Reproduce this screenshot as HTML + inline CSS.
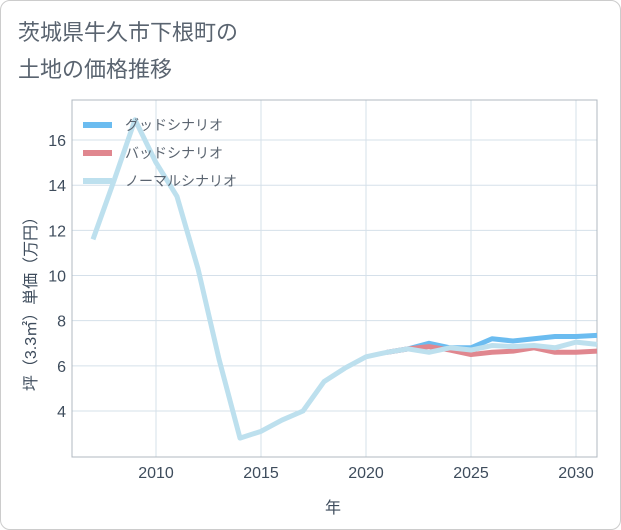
<!DOCTYPE html>
<html><head><meta charset="utf-8"><style>
body{margin:0;background:#fff;font-family:"Liberation Sans","Noto Sans CJK JP",sans-serif;}
#card{position:absolute;left:0;top:0;width:619px;height:528px;border:1px solid #ccc;border-radius:10px;background:#fff;}
</style></head><body>
<div id="card"></div>
<svg id="c" width="621" height="530" style="position:absolute;left:0;top:0"></svg>
<script>
const years=[2007,2008,2009,2010,2011,2012,2013,2014,2015,2016,2017,2018,2019,2020,2021,2022,2023,2024,2025,2026,2027,2028,2029,2030,2031];
const normal=[11.6,14.2,16.9,15,13.5,10.3,6.3,2.8,3.1,3.6,4.0,5.3,5.9,6.4,6.6,6.75,6.6,6.8,6.7,6.9,6.85,6.9,6.8,7.05,6.95];
const goodYears=[2021,2022,2023,2024,2025,2026,2027,2028,2029,2030,2031];
const good=[6.6,6.75,7.0,6.8,6.8,7.2,7.1,7.2,7.3,7.3,7.35];
const bad=[6.6,6.75,6.85,6.7,6.5,6.6,6.65,6.8,6.6,6.6,6.65];
const xTicks=[2010,2015,2020,2025,2030];
const yTicks=[4,6,8,10,12,14,16];
const NS='http://www.w3.org/2000/svg';
const svg=document.getElementById('c');
const X=y=>156+(y-2010)*21;
const Y=v=>411-(v-4)*22.58;
function el(t,a,txt){const e=document.createElementNS(NS,t);for(const k in a)e.setAttribute(k,a[k]);if(txt!=null)e.textContent=txt;svg.appendChild(e);return e;}
const t1=el('text',{x:18,y:40,'font-size':22,fill:'#5a6470'},'茨城県牛久市下根町の');


const t2=el('text',{x:18,y:77,'font-size':22,fill:'#5a6470'},'土地の価格推移');


for(const v of yTicks){
 const g=el('line',{x1:72,x2:597,y1:Y(v),y2:Y(v),stroke:'#d5e0ea','stroke-width':1});
 
 
 const l=el('text',{x:66,y:Y(v)+6,'font-size':16,fill:'#3e4c5c','text-anchor':'end'},v);
 
 
}
for(const v of xTicks){
 const g=el('line',{x1:X(v),x2:X(v),y1:100,y2:457,stroke:'#d5e0ea','stroke-width':1});
 
 
 const l=el('text',{x:X(v),y:478,'font-size':16,fill:'#3e4c5c','text-anchor':'middle'},v);
 
 
}
const fr=el('rect',{x:72,y:100,width:525,height:357,fill:'none',stroke:'#b0b8c0','stroke-width':1});


function line(xs,vs,color,name){
 const p=el('polyline',{points:xs.map((y,i)=>X(y)+','+Y(vs[i])).join(' '),fill:'none',stroke:color,'stroke-width':5,'stroke-linejoin':'round'});
 
 
}
line(goodYears,good,'#6bbcf0','good-scenario-line');
line(goodYears,bad,'#e0878f','bad-scenario-line');
line(years,normal,'#bde0ee','normal-scenario-line');
const leg=[['#6bbcf0','グッドシナリオ'],['#e0878f','バッドシナリオ'],['#bde0ee','ノーマルシナリオ']];
leg.forEach((d,i)=>{
 const yy=125+i*28;
 const s=el('line',{x1:83,x2:112,y1:yy,y2:yy,stroke:d[0],'stroke-width':6});
 
 
 const t=el('text',{x:125,y:yy+5,'font-size':14,fill:'#5a6470'},d[1]);
 
 
});
const xt=el('text',{x:333,y:513,'font-size':16,fill:'#3e4c5c','text-anchor':'middle'},'年');


const yt=el('text',{x:0,y:0,'font-size':16,fill:'#3e4c5c','text-anchor':'middle',transform:'translate(36,300) rotate(-90)'},'坪（3.3㎡）単価（万円）');


</script>
</body></html>
